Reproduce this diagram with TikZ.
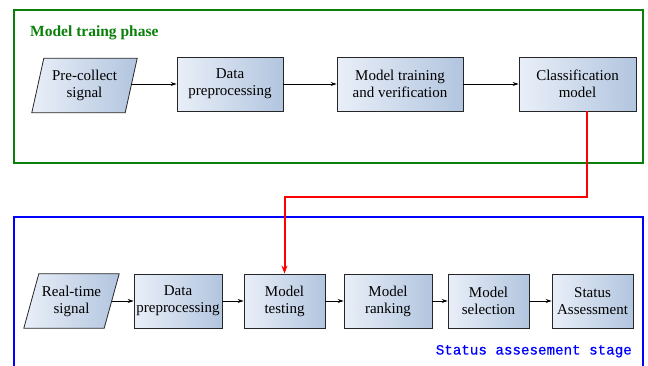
\documentclass[tikz,border=0pt]{standalone}
\usepackage{fontspec}
\setmainfont{Liberation Serif}
\setmonofont[FakeBold=0.6]{Liberation Mono}
\usetikzlibrary{arrows.meta,backgrounds}
\definecolor{boxL}{HTML}{E9EFF8}
\definecolor{boxR}{HTML}{B2C5DF}
\definecolor{phaseGreen}{HTML}{0A800A}
\tikzset{
  procbox/.style={draw=black!85, line width=0.8pt, left color=boxL, right color=boxR,
    minimum height=54pt, align=center, font=\fontsize{15}{17}\selectfont, inner sep=1pt},
  iotext/.style={minimum height=54pt, align=center, font=\fontsize{15}{17}\selectfont, inner sep=1pt},
  ioshape/.style={draw=black!85, line width=0.8pt, left color=boxL, right color=boxR},
  flow/.style={line width=0.8pt, -{Stealth[length=6pt,width=4pt]}},
  redflow/.style={line width=2pt, red, -{Stealth[length=8pt,width=6pt]}},
}
\begin{document}
\begin{tikzpicture}[x=1pt,y=-1pt]
\clip (0,0) rectangle (648,365);
% frames
\draw[phaseGreen, line width=2pt] (14,10) rectangle (643,163);
\draw[blue, line width=2pt] (14,217) rectangle (643,390);
\node[anchor=base west, text=phaseGreen, font=\fontsize{15.5}{18}\selectfont\bfseries, inner sep=0pt] (ttl) at (30,36) {Model traing phase};
\node[anchor=base east, text=blue, font=\fontsize{14.2}{16}\selectfont\ttfamily, inner sep=0pt] (stl) at (632,354.5) {Status assesement stage};
% top row
\node[iotext, minimum width=93pt] (pc) at (84.5,85.5) {Pre-collect\\signal};
\node[procbox, minimum width=106pt] (dp1) at (230,84) {Data\\preprocessing};
\node[procbox, minimum width=126pt] (mtv) at (400,84) {Model training\\and verification};
\node[procbox, minimum width=117pt] (cls) at (577.5,84) {Classification\\model};
\draw[flow] (pc.east |- dp1.west) -- (dp1.west);
\draw[flow] (dp1.east) -- (mtv.west);
\draw[flow] (mtv.east) -- (cls.west);
% bottom row
\node[iotext, minimum width=80pt] (rt) at (71.5,301) {Real-time\\signal};
\node[procbox, minimum width=88pt] (dp2) at (178,301) {Data\\preprocessing};
\node[procbox, minimum width=81pt] (test) at (284.5,301) {Model\\testing};
\node[procbox, minimum width=88pt] (rank) at (388,301) {Model\\ranking};
\node[procbox, minimum width=81pt] (sel) at (488.5,301) {Model\\selection};
\node[procbox, minimum width=81pt] (sa) at (592.5,301) {Status\\Assessment};
\draw[flow] (rt.east) -- (dp2.west);
\draw[flow] (dp2.east) -- (test.west);
\draw[flow] (test.east) -- (rank.west);
\draw[flow] (rank.east) -- (sel.west);
\draw[flow] (sel.east) -- (sa.west);
% parallelogram outlines behind the text
\begin{scope}[on background layer]
\draw[ioshape] ([xshift=-6pt]pc.south west) -- ([xshift=6pt]pc.north west) -- ([xshift=6pt]pc.north east) -- ([xshift=-6pt]pc.south east) -- cycle;
\draw[ioshape] ([xshift=-7.5pt]rt.south west) -- ([xshift=7.5pt]rt.north west) -- ([xshift=7.5pt]rt.north east) -- ([xshift=-7.5pt]rt.south east) -- cycle;
\end{scope}
% red link
\coordinate (bend) at (587,197);
\draw[redflow] (cls.south -| bend) -- (bend) -| (test.north);
\end{tikzpicture}
\end{document}
